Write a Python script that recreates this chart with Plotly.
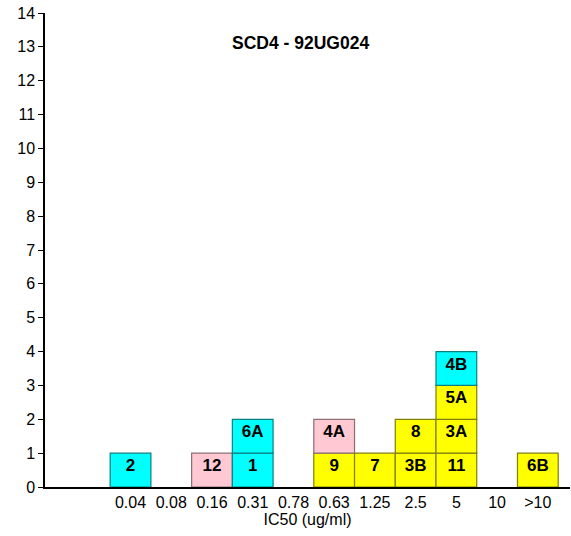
import plotly.graph_objects as go

categories = ["0.04", "0.08", "0.16", "0.31", "0.78", "0.63", "1.25", "2.5", "5", "10", ">10"]

# Each stacked cell: category, label, colour group (listed bottom to top)
cell_category = ["0.04", "0.16", "0.31", "0.31", "0.63", "0.63", "1.25", "2.5", "2.5", "5", "5", "5", "5", ">10"]
cell_label = ["2", "12", "1", "6A", "9", "4A", "7", "3B", "8", "11", "3A", "5A", "4B", "6B"]
cell_group = ["cyan", "pink", "cyan", "cyan", "yellow", "pink", "yellow", "yellow", "yellow", "yellow", "yellow", "yellow", "cyan", "yellow"]

colors = {"cyan": "#00FFFF", "yellow": "#FFFF00", "pink": "#FFC8D2"}
edges = {"cyan": "#0B7F80", "yellow": "#7F7F0B", "pink": "#8A6F74"}

FONT = "Liberation Sans, Arial, sans-serif"

fig = go.Figure()
stack = {}
for cat, lab, grp in zip(cell_category, cell_label, cell_group):
    base = stack.get(cat, 0)
    stack[cat] = base + 1
    fig.add_trace(go.Bar(
        x=[categories.index(cat)], y=[1], base=[base], width=1,
        marker=dict(color=colors[grp], line=dict(color=edges[grp], width=1.2)),
        text=[f"<b>{lab}</b>"], textposition="inside", insidetextanchor="end",
        textfont=dict(family=FONT, size=17, color="black"),
        constraintext="none", textangle=0,
        showlegend=False, hoverinfo="skip",
    ))

fig.update_layout(
    width=571, height=536,
    margin=dict(l=45, r=1, t=13, b=49, autoexpand=False),
    plot_bgcolor="white", paper_bgcolor="white",
    barmode="overlay",
    font=dict(family=FONT, size=16, color="black"),
    xaxis=dict(
        range=[-2.1, 10.79], tickmode="array",
        tickvals=list(range(len(categories))), ticktext=categories,
        showline=True, linecolor="black", linewidth=1.5,
        ticks="", showgrid=False, zeroline=False, automargin=False,
        title=dict(text="IC50 (ug/ml)", font=dict(size=16), standoff=4),
        tickfont=dict(size=16),
    ),
    yaxis=dict(
        range=[0, 14], dtick=1, tick0=0,
        showline=True, linecolor="black", linewidth=1.5,
        ticks="outside", ticklen=5, tickcolor="black", tickwidth=1,
        showgrid=False, zeroline=False, automargin=False, tickfont=dict(size=16),
        ticklabeloverflow="allow",
    ),
    annotations=[dict(
        text="<b>SCD4 - 92UG024</b>", x=0.4876, y=0.962,
        xref="paper", yref="paper", showarrow=False,
        font=dict(family=FONT, size=17.5, color="black"),
    )],
)

# remove the page's default 8px body margin so the figure fills the window exactly
fig.write_html("out.html", config={"displayModeBar": False},
               post_script="document.body.style.margin='0';")
